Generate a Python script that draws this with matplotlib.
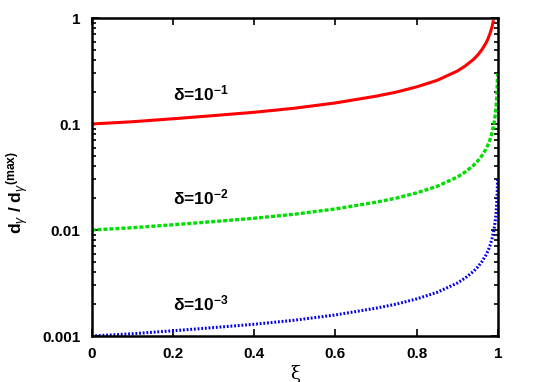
import matplotlib
matplotlib.use("Agg")
import matplotlib.pyplot as plt
from matplotlib.ticker import LogLocator, NullFormatter, FixedLocator

plt.rcParams['font.family'] = ['Liberation Sans', 'DejaVu Sans']
plt.rcParams['mathtext.fontset'] = 'custom'
plt.rcParams['mathtext.rm'] = 'Liberation Sans'
plt.rcParams['mathtext.it'] = 'Liberation Sans:italic'
plt.rcParams['mathtext.bf'] = 'Liberation Sans:bold'

# Data
xi_1 = [0.0, 0.1, 0.2, 0.3, 0.4, 0.5, 0.6, 0.7, 0.75, 0.8, 0.85, 0.9, 0.92, 0.94,
        0.95, 0.96, 0.97, 0.975, 0.98, 0.985, 0.989]
y_1 = [0.100, 0.105, 0.112, 0.120, 0.129, 0.141, 0.158, 0.183, 0.200, 0.224, 0.258,
       0.316, 0.354, 0.408, 0.447, 0.500, 0.577, 0.632, 0.707, 0.816, 0.953]

xi_2 = [0.0, 0.1, 0.2, 0.3, 0.4, 0.5, 0.6, 0.7, 0.75, 0.8, 0.85, 0.9, 0.92, 0.94,
        0.95, 0.96, 0.97, 0.975, 0.98, 0.985, 0.99, 0.993, 0.995, 0.997, 0.998, 0.9989]
y_2 = [0.0100, 0.0105, 0.0112, 0.0120, 0.0129, 0.0141, 0.0158, 0.0183, 0.0200, 0.0224,
       0.0258, 0.0316, 0.0354, 0.0408, 0.0447, 0.0500, 0.0577, 0.0632, 0.0707, 0.0816,
       0.100, 0.120, 0.141, 0.183, 0.224, 0.30]

xi_3 = xi_2
y_3 = [0.00100, 0.00105, 0.00112, 0.00120, 0.00129, 0.00141, 0.00158, 0.00183, 0.00200,
       0.00224, 0.00258, 0.00316, 0.00354, 0.00408, 0.00447, 0.00500, 0.00577, 0.00632,
       0.00707, 0.00816, 0.0100, 0.0120, 0.0141, 0.0183, 0.0224, 0.030]

labels = [r'δ=10$^{\mathbf{-1}}$', r'δ=10$^{\mathbf{-2}}$', r'δ=10$^{\mathbf{-3}}$']
label_x = [0.2, 0.2, 0.2]
label_y = [0.196, 0.0204, 0.00204]

x_ticks = [0, 0.2, 0.4, 0.6, 0.8, 1]
x_ticklabels = ['0', '0.2', '0.4', '0.6', '0.8', '1']
y_ticks = [0.001, 0.01, 0.1, 1]
y_ticklabels = ['0.001', '0.01', '0.1', '1']

fig = plt.figure(figsize=(5.45, 3.82), dpi=100)
ax = fig.add_axes([91.5/545, 1-336/382, (498-91.5)/545, (336-18)/382])

ax.plot(xi_1, y_1, color='#ff0000', lw=2.2, solid_capstyle='butt')
ax.plot(xi_2, y_2, color='#00dd00', lw=2.4, linestyle=(0, (1.2, 0.6)))
ax.plot(xi_3, y_3, color='#0000ee', lw=2.2, linestyle=(0, (0.6, 0.6)))

ax.set_yscale('log')
ax.set_xlim(0, 1)
ax.set_ylim(0.001, 1)

ax.xaxis.set_major_locator(FixedLocator(x_ticks))
ax.set_xticklabels(x_ticklabels, fontsize=11, fontweight='bold')
ax.yaxis.set_major_locator(FixedLocator(y_ticks))
ax.set_yticklabels(y_ticklabels, fontsize=11, fontweight='bold')
ax.yaxis.set_minor_locator(LogLocator(base=10, subs=range(2, 10)))
ax.yaxis.set_minor_formatter(NullFormatter())

ax.tick_params(which='both', direction='in', top=True, right=True, width=1.2)
ax.tick_params(which='major', length=5, pad=8)
ax.tick_params(which='minor', length=3)
for s in ax.spines.values():
    s.set_linewidth(1.8)

for t, x, y in zip(labels, label_x, label_y):
    ax.text(x, y, t, fontsize=12.5, fontweight='bold', ha='left', va='center')

ax.set_ylabel(r'$\mathbf{d}_{\gamma}$ / $\mathbf{d}_{\gamma}{}^{\mathbf{(max)}}$',
              fontsize=12.5, fontweight='bold')
ax.yaxis.set_label_coords(-0.15, 0.45)
ax.set_xlabel('ξ', fontsize=13, family=['DejaVu Serif'])
ax.xaxis.set_label_coords(0.5, -0.092)

fig.savefig('out.png', dpi=100)
